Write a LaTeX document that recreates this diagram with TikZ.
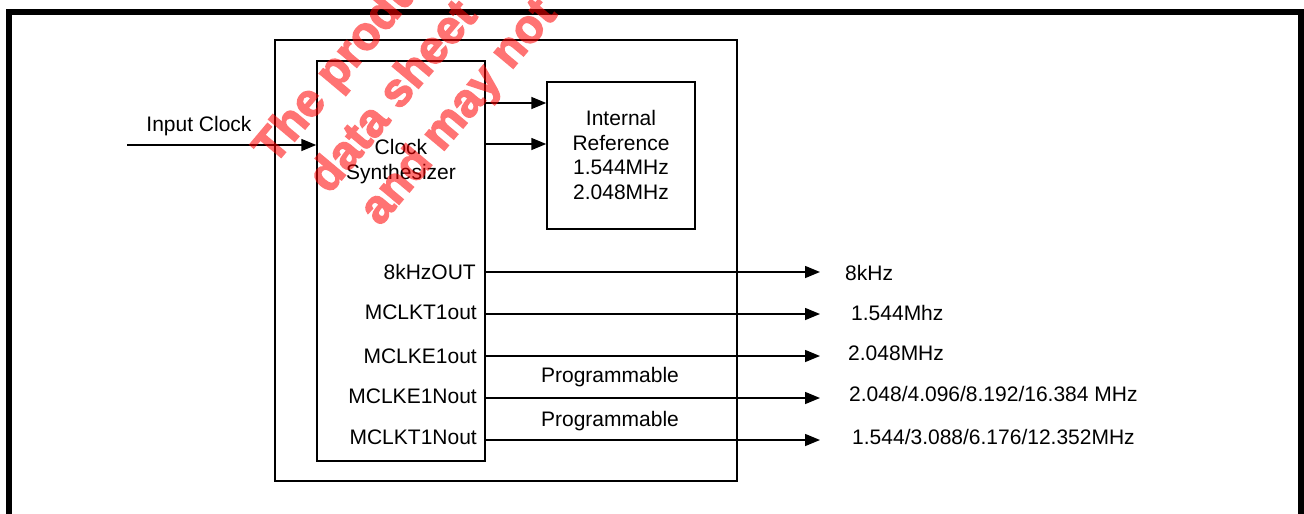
\documentclass[tikz,border=0pt]{standalone}
\usepackage{fontspec}
\setmainfont{Liberation Sans}
\newfontface\wmfont{Liberation Sans Bold}[FakeBold=3]
\usetikzlibrary{arrows.meta}
\begin{document}
\begin{tikzpicture}[x=1pt,y=-1pt,
  box/.style={draw, line width=1.5pt, inner sep=0pt},
  lbl/.style={font=\fontsize{21}{25}\selectfont, inner sep=0pt},
  arr/.style={line width=1.5pt, -{Triangle[length=15pt,width=12pt]}},
  wm/.style={text=red, rotate=50, anchor=base west, inner sep=0pt,
             font=\wmfont\fontsize{47}{47}\selectfont}]
\useasboundingbox (0,0) rectangle (1304,514);
\clip (0,0) rectangle (1304,514);
\fill[white] (0,0) rectangle (1304,514);
% outer frame
\coordinate (fbl) at (9,540);
\coordinate (ftl) at (9,12);
\coordinate (ftr) at (1301,12);
\coordinate (fbr) at (1301,540);
\draw[line width=6pt] (fbl) -- (ftl) -- (ftr) -- (fbr);
% boxes
\node[box, minimum width=462pt, minimum height=441pt] (chip) at (506,260.5) {};
\node[box, minimum width=168pt, minimum height=400pt] (synth) at (401,261) {};
\node[box, minimum width=148pt, minimum height=147pt] (iref) at (621,155.5) {};
\node[lbl, align=center, font=\fontsize{21}{25}\selectfont] (synthlbl) at (401,162) {Clock\\Synthesizer};
\node[lbl, align=center, font=\fontsize{21}{24.6}\selectfont] (ireflbl) at (621,155) {Internal\\Reference\\1.544MHz\\2.048MHz};
% synth to internal reference
\draw[arr] (synth.east |- 0,103) -- (iref.west |- 0,103);
\draw[arr] (synth.east |- 0,144) -- (iref.west |- 0,144);
% input clock
\coordinate (inclk) at (127,145);
\draw[arr] (inclk) -- (synth.west |- inclk);
\node[lbl] (inlbl) at (199,126) {Input Clock};
% output pins
\node[lbl, anchor=base east] (p1) at (476,279) {8kHzOUT};
\node[lbl, anchor=base east] (p2) at (477,319) {MCLKT1out};
\node[lbl, anchor=base east] (p3) at (477,363) {MCLKE1out};
\node[lbl, anchor=base east] (p4) at (477,403) {MCLKE1Nout};
\node[lbl, anchor=base east] (p5) at (477,444) {MCLKT1Nout};
\coordinate (o1) at (820,272);
\coordinate (o2) at (820,314);
\coordinate (o3) at (820,356);
\coordinate (o4) at (820,398);
\coordinate (o5) at (820,440);
\draw[arr] (synth.east |- o1) -- (o1);
\draw[arr] (synth.east |- o2) -- (o2);
\draw[arr] (synth.east |- o3) -- (o3);
\draw[arr] (synth.east |- o4) -- (o4);
\draw[arr] (synth.east |- o5) -- (o5);
\node[lbl, anchor=base] (prog1) at (610,382) {Programmable};
\node[lbl, anchor=base] (prog2) at (610,426) {Programmable};
% output labels
\node[lbl, anchor=base west] (f1) at (845,280) {8kHz};
\node[lbl, anchor=base west] (f2) at (851,320) {1.544Mhz};
\node[lbl, anchor=base west] (f3) at (848,360) {2.048MHz};
\node[lbl, anchor=base west] (f4) at (849,401) {2.048/4.096/8.192/16.384 MHz};
\node[lbl, anchor=base west] (f5) at (852,444) {1.544/3.088/6.176/12.352MHz};
% watermark
\begin{scope}[transparency group, opacity=0.55]
\node[wm] (wm1) at (274,166) {The product};
\node[wm] (wm2) at (329,195) {data sheet};
\node[wm] (wm3) at (380,227) {and may not};
\end{scope}
\end{tikzpicture}
\end{document}
